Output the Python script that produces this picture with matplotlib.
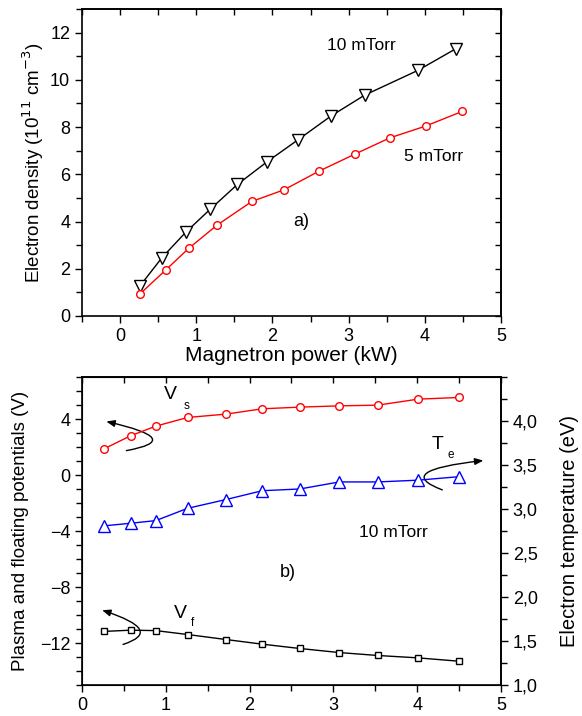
import matplotlib

matplotlib.use("Agg")
import matplotlib.pyplot as plt
from matplotlib.patches import FancyArrowPatch
from matplotlib.path import Path
from matplotlib.ticker import MultipleLocator, FixedLocator, NullFormatter

plt.rcParams["font.family"] = ["Liberation Sans", "DejaVu Sans"]

# (a) electron density vs magnetron power
p10 = [0.26, 0.55, 0.86, 1.18, 1.54, 1.93, 2.34, 2.77, 3.21, 3.91, 4.41]
ne10 = [1.27, 2.47, 3.54, 4.51, 5.57, 6.53, 7.47, 8.47, 9.35, 10.40, 11.32]
p5 = [0.26, 0.60, 0.90, 1.27, 1.73, 2.15, 2.61, 3.08, 3.54, 4.01, 4.49]
ne5 = [0.93, 1.95, 2.86, 3.84, 4.85, 5.34, 6.13, 6.85, 7.54, 8.04, 8.66]

# (b) potentials and electron temperature at 10 mTorr
pb = [0.26, 0.58, 0.88, 1.26, 1.72, 2.15, 2.60, 3.07, 3.53, 4.01, 4.50]
vs = [1.88, 2.82, 3.51, 4.13, 4.37, 4.75, 4.87, 4.96, 5.01, 5.44, 5.56]
vf = [-11.17, -11.08, -11.11, -11.39, -11.75, -12.08, -12.39, -12.68, -12.89, -13.06, -13.30]
te = [2.81, 2.84, 2.87, 3.01, 3.11, 3.21, 3.23, 3.31, 3.31, 3.33, 3.37]
te_ticks = [1.0, 1.5, 2.0, 2.5, 3.0, 3.5, 4.0]
te_labels = ["1,0", "1,5", "2,0", "2,5", "3,0", "3,5", "4,0"]

FS = 13


def base_ticks(ax):
    ax.tick_params(which="both", labelsize=FS, width=1, direction="out",
                   top=False, right=False)
    ax.tick_params(which="major", length=5)
    ax.tick_params(which="minor", length=4)
    for side in ax.spines.values():
        side.set_linewidth(1.2)


def inner_x(ax, major, minor):
    sec = ax.secondary_xaxis("top")
    sec.xaxis.set_major_locator(major)
    sec.xaxis.set_minor_locator(minor)
    sec.xaxis.set_major_formatter(NullFormatter())
    sec.tick_params(which="both", direction="in", width=1, length=4)
    sec.spines["top"].set_linewidth(1.2)
    return sec


def inner_y(ax, major, minor):
    sec = ax.secondary_yaxis("right")
    sec.yaxis.set_major_locator(major)
    sec.yaxis.set_minor_locator(minor)
    sec.yaxis.set_major_formatter(NullFormatter())
    sec.tick_params(which="both", direction="in", width=1, length=4)
    sec.spines["right"].set_linewidth(1.2)
    return sec


def curved_arrow(ax, start, mid, end):
    # quadratic bezier passing through mid at t=0.5
    ctrl = (2 * mid[0] - (start[0] + end[0]) / 2, 2 * mid[1] - (start[1] + end[1]) / 2)
    path = Path([start, ctrl, end], [Path.MOVETO, Path.CURVE3, Path.CURVE3])
    arr = FancyArrowPatch(path=path, arrowstyle="-|>,head_length=0.5,head_width=0.2",
                          mutation_scale=10, color="black", lw=1.0,
                          transform=ax.transData)
    ax.add_patch(arr)


fig = plt.figure(figsize=(5.82, 7.16), dpi=100)

# ---- panel a ----
ax1 = fig.add_axes([0.1409, 0.5587, 0.7199, 0.4288])
ax1.plot(p10, ne10, color="black", lw=1, marker="v", ms=8.5, mfc="white", mec="black", mew=1)
ax1.plot(p5, ne5, color="red", lw=1, marker="o", ms=5.5, mfc="white", mec="red", mew=1)
ax1.set_xlim(-0.5, 5)
ax1.set_ylim(0, 13)
ax1.xaxis.set_major_locator(FixedLocator([0, 1, 2, 3, 4, 5]))
ax1.xaxis.set_minor_locator(MultipleLocator(0.5))
ax1.yaxis.set_major_locator(MultipleLocator(2))
ax1.yaxis.set_minor_locator(MultipleLocator(1))
base_ticks(ax1)
inner_x(ax1, MultipleLocator(1), MultipleLocator(0.5))
inner_y(ax1, MultipleLocator(2), MultipleLocator(1))
ax1.set_xlabel("Magnetron power (kW)", fontsize=15, labelpad=1)
ax1.set_ylabel("Electron density (10$^{11}$ cm$^{-3}$)", fontsize=13.5, labelpad=3)
ax1.text(3.17, 11.45, "10 mTorr", fontsize=12.5, ha="center", va="center")
ax1.text(4.11, 6.77, "5 mTorr", fontsize=12.5, ha="center", va="center")
ax1.text(2.38, 3.98, "a)", fontsize=13, ha="center", va="center")

# ---- panel b ----
ax2 = fig.add_axes([0.1409, 0.0433, 0.7199, 0.4297])
ax2.plot(pb, vs, color="red", lw=1, marker="o", ms=5.5, mfc="white", mec="red", mew=1)
ax2.plot(pb, vf, color="black", lw=1, marker="s", ms=4.5, mfc="white", mec="black", mew=1)
ax2.set_xlim(0, 5)
ax2.set_ylim(-15, 7)
ax2.xaxis.set_major_locator(MultipleLocator(1))
ax2.xaxis.set_minor_locator(MultipleLocator(0.5))
ax2.yaxis.set_major_locator(FixedLocator([-12, -8, -4, 0, 4]))
ax2.yaxis.set_minor_locator(MultipleLocator(1))
base_ticks(ax2)
inner_x(ax2, MultipleLocator(1), MultipleLocator(0.5))
ax2.set_ylabel("Plasma and floating potentials (V)", fontsize=13.5, labelpad=8)

ax3 = ax2.twinx()
ax3.plot(pb, te, color="blue", lw=1, marker="^", ms=8, mfc="white", mec="blue", mew=1)
ax3.set_ylim(1.0, 4.5)
ax3.yaxis.set_major_locator(FixedLocator(te_ticks))
ax3.yaxis.set_minor_locator(MultipleLocator(0.25))
ax3.set_yticklabels(te_labels)
ax3.tick_params(axis="y", which="both", labelsize=FS, direction="out", width=1)
ax3.tick_params(axis="y", which="major", length=5)
ax3.tick_params(axis="y", which="minor", length=4)
ax3.spines["right"].set_linewidth(1.2)
ax3.set_ylabel("Electron temperature (eV)", fontsize=14.5, labelpad=16)

ax2.text(1.05, 5.75, "V", fontsize=14, ha="center", va="center")
ax2.text(1.25, 4.95, "s", fontsize=8.5, ha="center", va="center")
ax2.text(4.24, 2.2, "T", fontsize=14, ha="center", va="center")
ax2.text(4.40, 1.45, "e", fontsize=8.5, ha="center", va="center")
ax2.text(1.17, -9.9, "V", fontsize=14, ha="center", va="center")
ax2.text(1.32, -10.55, "f", fontsize=8.5, ha="center", va="center")
ax2.text(3.71, -4.13, "10 mTorr", fontsize=12.5, ha="center", va="center")
ax2.text(2.46, -6.95, "b)", fontsize=13, ha="center", va="center")

curved_arrow(ax2, (0.53, 1.76), (0.83, 2.67), (0.29, 3.84))
curved_arrow(ax2, (0.49, -12.1), (0.68, -11.0), (0.24, -9.65))
curved_arrow(ax2, (4.30, -1.05), (4.12, 0.16), (4.79, 1.05))

fig.savefig("out.png", dpi=100)
